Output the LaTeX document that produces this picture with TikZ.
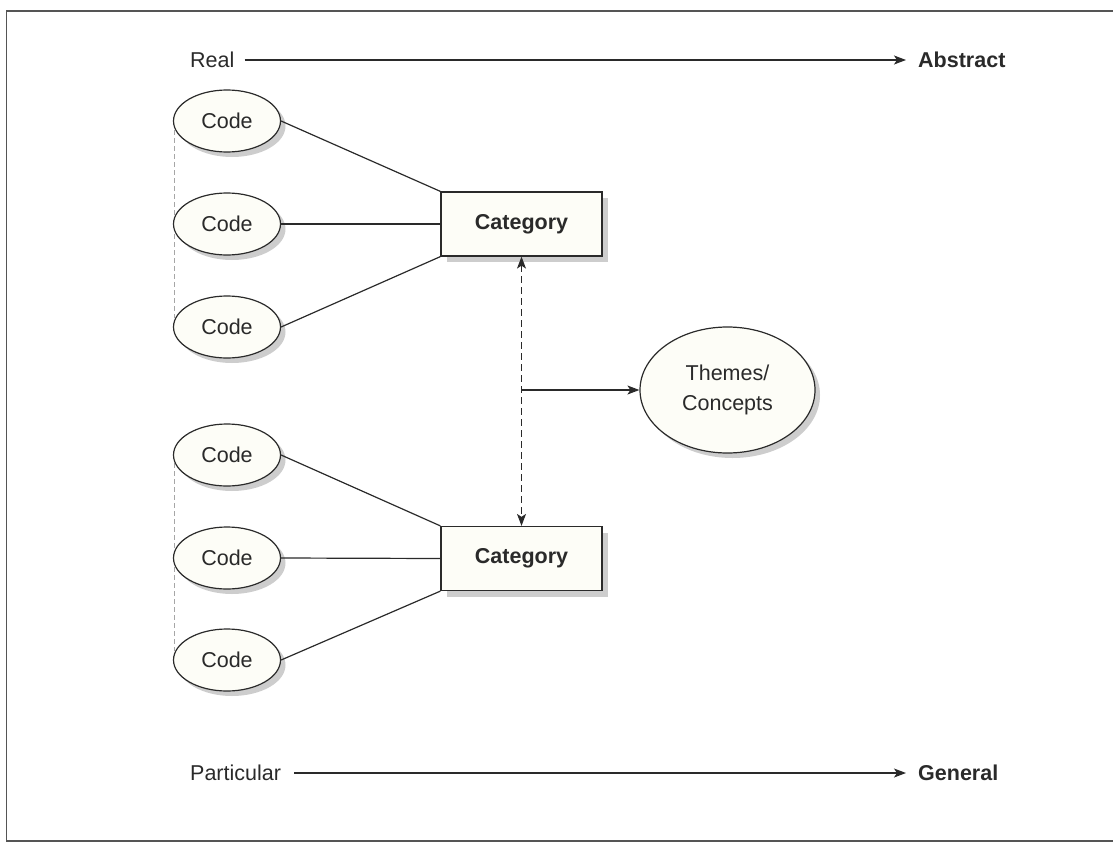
\documentclass[tikz,border=0pt]{standalone}
\usepackage{fontspec}
\setmainfont{Liberation Sans}
\usetikzlibrary{arrows.meta,shadows,shapes.geometric}
\definecolor{ink}{HTML}{2A2A2A}
\definecolor{paper}{HTML}{FDFDF7}
\definecolor{shade}{HTML}{CDCDCD}
\tikzset{
  lbl/.style={font=\fontsize{21.5}{25}\selectfont, text=ink, inner sep=0pt},
  boldlbl/.style={lbl, font=\fontsize{21.5}{25}\selectfont\bfseries},
  codenode/.style={ellipse, draw=ink, line width=1.2pt, fill=paper,
    minimum width=107pt, minimum height=62pt, inner sep=0pt,
    font=\fontsize{21.5}{25}\selectfont, text=ink,
    drop shadow={shadow xshift=5pt, shadow yshift=-5pt, fill=shade, opacity=1}},
  catnode/.style={rectangle, draw=ink, line width=1.2pt, fill=paper,
    minimum width=161pt, minimum height=64pt, inner sep=0pt,
    font=\fontsize{21.5}{25}\selectfont\bfseries, text=ink,
    drop shadow={shadow xshift=6pt, shadow yshift=-6pt, fill=shade, opacity=1}},
  themenode/.style={codenode, minimum width=175pt, minimum height=126pt,
    align=center, font=\fontsize{21.5}{30}\selectfont},
  link/.style={draw=ink, line width=1.2pt},
  tip/.style={-{Stealth[length=12pt,width=9pt,inset=3pt]}},
  scalearrow/.style={link, tip},
  guide/.style={draw=gray!70, line width=0.9pt, dash pattern=on 5pt off 3pt},
  relation/.style={draw=ink, line width=1.2pt, dash pattern=on 7pt off 4pt,
    {Stealth[length=12pt,width=9pt,inset=3pt]}-{Stealth[length=12pt,width=9pt,inset=3pt]}},
}
\begin{document}
\begin{tikzpicture}[x=1pt,y=-1pt]
  \useasboundingbox (0,0) rectangle (1113,843);
  % outer frame (right side runs past the page edge)
  \begin{scope}
    \clip (0,0) rectangle (1113,843);
    \draw[draw=ink!80, line width=1.5pt] (6.5,11) rectangle (1125,841);
  \end{scope}

  % scale from real to abstract
  \node[lbl, anchor=west] (real) at (190,60) {Real};
  \node[boldlbl, anchor=west] (abstract) at (918,60) {Abstract};
  \draw[scalearrow] ([xshift=10pt]real.east) -- ([xshift=-12pt]abstract.west);

  % scale from particular to general
  \node[lbl, anchor=west] (particular) at (190,773) {Particular};
  \node[boldlbl, anchor=west] (general) at (918,773) {General};
  \draw[scalearrow] ([xshift=13pt]particular.east) -- ([xshift=-12pt]general.west);

  % guide lines linking each column of codes
  \coordinate (ga1) at (174,130);
  \coordinate (ga2) at (174,318);
  \coordinate (gb1) at (174,463);
  \coordinate (gb2) at (174,651);
  \draw[guide] (ga1) -- (ga2);
  \draw[guide] (gb1) -- (gb2);

  % upper group
  \node[codenode] (c1) at (227,121) {Code};
  \node[codenode] (c2) at (227,224) {Code};
  \node[codenode] (c3) at (227,327) {Code};
  \node[catnode] (cat1) at (521.5,224) {Category};

  % lower group
  \node[codenode] (c4) at (227,455) {Code};
  \node[codenode] (c5) at (227,558) {Code};
  \node[codenode] (c6) at (227,660) {Code};
  \node[catnode] (cat2) at (521.5,558.5) {Category};

  % themes
  \node[themenode] (theme) at (727.5,390) {Themes/\\Concepts};

  % links from codes to categories
  \draw[link] (c1.east) -- (cat1.north west);
  \draw[link] (c2.east) -- (cat1.west);
  \draw[link] (c3.east) -- (cat1.south west);
  \draw[link] (c4.east) -- (cat2.north west);
  \draw[link] (c5.east) -- (cat2.west);
  \draw[link] (c6.east) -- (cat2.south west);

  % relation between categories and the move to themes
  \draw[relation] (cat1.south) -- (cat2.north);
  \coordinate (mid) at (cat1.south |- theme.west);
  \draw[link, tip] (mid) -- (theme.west);
\end{tikzpicture}
\end{document}
